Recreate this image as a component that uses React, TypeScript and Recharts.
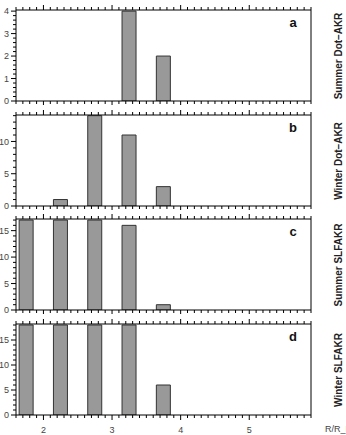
import { BarChart, Bar, XAxis, YAxis } from "recharts";

// histogram bins (R/R_E), bar centres
const binCenters = [1.75, 2.25, 2.75, 3.25, 3.75];

const summerDot = [0, 0, 0, 4, 2];
const winterDot = [0, 1, 14, 11, 3];
const summerSlf = [17, 17, 17, 16, 1];
const winterSlf = [18, 18, 18, 18, 6];

const xTicks = [
  1.6, 1.7, 1.8, 1.9, 2, 2.1, 2.2, 2.3, 2.4, 2.5, 2.6, 2.7, 2.8, 2.9,
  3, 3.1, 3.2, 3.3, 3.4, 3.5, 3.6, 3.7, 3.8, 3.9, 4, 4.1, 4.2, 4.3, 4.4,
  4.5, 4.6, 4.7, 4.8, 4.9, 5, 5.1, 5.2, 5.3, 5.4, 5.5, 5.6, 5.7, 5.8, 5.9,
];
const xLabels = [2, 3, 4, 5];

const yTicksA = [0, 0.2, 0.4, 0.6, 0.8, 1, 1.2, 1.4, 1.6, 1.8, 2, 2.2, 2.4, 2.6, 2.8, 3, 3.2, 3.4, 3.6, 3.8, 4];
const yTicksB = [0, 1, 2, 3, 4, 5, 6, 7, 8, 9, 10, 11, 12, 13, 14];
const yTicksC = [0, 1, 2, 3, 4, 5, 6, 7, 8, 9, 10, 11, 12, 13, 14, 15, 16, 17];
const yTicksD = [0, 1, 2, 3, 4, 5, 6, 7, 8, 9, 10, 11, 12, 13, 14, 15, 16, 17, 18];

const FONT = '"Liberation Sans", Arial, sans-serif';
const PLOT_H = 91;

const isMajor = (v: number, step: number) => Math.abs(v / step - Math.round(v / step)) < 1e-6;

function Panel({ top, height, values, yMax, yTicks, yMajor, letter, title, showX }: any) {
  const data = binCenters.map((x, i) => ({ x, n: values[i] }));

  const xTickBottom = ({ x, y, payload }: any) => {
    const big = isMajor(payload.value, 1);
    return (
      <g>
        <line x1={x} x2={x} y1={y} y2={y + (big ? 5 : 3)} stroke="#000" />
        {showX && big && xLabels.includes(payload.value) && (
          <text x={x} y={y + 18} textAnchor="middle" fontSize={9} fill="#444" fontFamily={FONT}>
            {payload.value}
          </text>
        )}
      </g>
    );
  };
  const xTickTop = ({ x, y, payload }: any) => {
    const big = isMajor(payload.value, 1);
    return <line x1={x} x2={x} y1={y} y2={y - (big ? 5 : 3)} stroke="#000" />;
  };
  const yTick = ({ x, y, payload }: any) => {
    const big = isMajor(payload.value, yMajor);
    return (
      <g>
        <line x1={x} x2={x - (big ? 5 : 3)} y1={y} y2={y} stroke="#000" />
        {big && (
          <text x={x - 7} y={y} dy="0.35em" textAnchor="end" fontSize={9} fill="#444" fontFamily={FONT}>
            {payload.value}
          </text>
        )}
      </g>
    );
  };

  return (
    <div style={{ position: "absolute", left: 0, top }}>
      <BarChart
        width={346}
        height={height}
        data={data}
        margin={{ top: 9, right: 34, left: 0, bottom: height - 11 - PLOT_H }}
      >
        <XAxis
          dataKey="x"
          type="number"
          domain={[1.6, 5.9]}
          allowDataOverflow
          ticks={xTicks}
          interval={0}
          height={1}
          tickSize={0}
          tickMargin={0}
          tickLine={false}
          tick={xTickBottom}
          axisLine={{ stroke: "#000" }}
        />
        <XAxis
          xAxisId="top"
          orientation="top"
          dataKey="x"
          type="number"
          domain={[1.6, 5.9]}
          allowDataOverflow
          ticks={xTicks}
          interval={0}
          height={1}
          tickSize={0}
          tickMargin={0}
          tickLine={false}
          tick={xTickTop}
          axisLine={{ stroke: "#000" }}
        />
        <YAxis
          type="number"
          domain={[0, yMax]}
          allowDataOverflow
          ticks={yTicks}
          interval={0}
          width={16}
          tickSize={0}
          tickMargin={0}
          tickLine={false}
          tick={yTick}
          axisLine={{ stroke: "#000" }}
        />
        <YAxis
          yAxisId="r"
          orientation="right"
          domain={[0, yMax]}
          width={1}
          tick={false}
          tickLine={false}
          axisLine={{ stroke: "#000" }}
        />
        <Bar dataKey="n" barSize={14} fill="#999999" stroke="#333" strokeWidth={1} isAnimationActive={false} />
      </BarChart>
      <div
        style={{
          position: "absolute",
          left: 293,
          top: 22,
          transform: "translate(-50%, -50%)",
          fontFamily: FONT,
          fontWeight: "bold",
          fontSize: 13,
          color: "#111",
        }}
      >
        {letter}
      </div>
      <div
        style={{
          position: "absolute",
          left: 338,
          top: 10 + PLOT_H / 2,
          transform: "translate(-50%, -50%) rotate(-90deg)",
          whiteSpace: "nowrap",
          fontFamily: FONT,
          fontWeight: "bold",
          fontSize: 10,
          color: "#222",
        }}
      >
        {title}
      </div>
    </div>
  );
}

export default function App() {
  return (
    <div style={{ position: "absolute", left: 0, top: 0, width: 346, height: 435, overflow: "hidden", background: "#fff" }}>
      <Panel top={0} height={105} values={summerDot} yMax={4.05} yTicks={yTicksA} yMajor={1} letter="a" title="Summer Dot–AKR" />
      <Panel top={105} height={105} values={winterDot} yMax={14.1} yTicks={yTicksB} yMajor={5} letter="b" title="Winter Dot–AKR" />
      <Panel top={209} height={105} values={summerSlf} yMax={17.2} yTicks={yTicksC} yMajor={5} letter="c" title="Summer SLFAKR" />
      <Panel top={314} height={121} values={winterSlf} yMax={18.2} yTicks={yTicksD} yMajor={5} letter="d" title="Winter SLFAKR" showX />
      <div style={{ position: "absolute", left: 325, top: 424, fontFamily: FONT, fontSize: 9, color: "#444", whiteSpace: "nowrap" }}>
        R/R_E
      </div>
    </div>
  );
}
